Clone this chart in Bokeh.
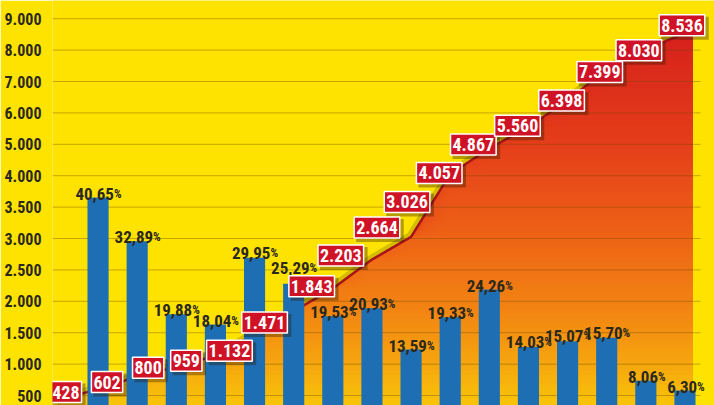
import numpy as np
from bokeh.plotting import figure
from bokeh.models import ColumnDataSource, Range1d, FixedTicker
from bokeh.core.properties import value
from bokeh.embed import file_html
from bokeh.resources import INLINE

# ---------------- data ----------------
totals = [428, 602, 800, 959, 1132, 1471, 1843, 2203, 2664, 3026,
          4057, 4867, 5560, 6398, 7399, 8030, 8536]
growth_pct = [40.65, 32.89, 19.88, 18.04, 29.95, 25.29, 19.53, 20.93,
              13.59, 19.33, 24.26, 14.03, 15.07, 15.70, 8.06, 6.30]
tick_values = [0, 500, 1000, 1500, 2000, 2500, 3000, 3500, 4000,
               5000, 6000, 7000, 8000, 9000]

# label nudges (screen px)
box_dx = [7, 9, 11, 10, 14, 10, 18, 8, 5, -4, -11, -16, -11, -6, -7, -7, -3]
box_dy = [-8, -7, -9, -6, -5, -12, -25, -33, -32, -35, -1, -4, -1, 0, 3, 1, -8]
pct_dy = [-4, -4, -4, -4, -5, -16, -4, -4, -4, -4, -4, -5, -5, -5, -4, -4]

# ---------------- style ----------------
FONT = ("'Liberation Sans Narrow', 'Noto Sans ExtraCondensed', 'Roboto Condensed', "
        "'Open Sans Condensed', 'Noto Sans Condensed', 'DejaVu Sans Condensed', sans-serif")
YELLOW = "#ffe300"
BLUE = "#1e6eb4"
DARK = "#2b281c"
BOX_RED = "#d01226"
LINE_RED = "#a8121a"

X_START, X_END, GRID_END = -0.164, 16.755, 16.397

tick_idx = np.arange(len(tick_values), dtype=float)


def to_idx(v):
    return np.interp(np.asarray(v, dtype=float), tick_values, tick_idx)


x_pos = np.arange(len(totals), dtype=float)
line_idx = to_idx(totals)

p = figure(width=714, height=405, output_backend="svg", toolbar_location=None,
           x_range=Range1d(X_START, X_END), y_range=Range1d(0.682, 13.58),
           x_axis_location=None, min_border_left=52, min_border_right=0,
           min_border_top=0, min_border_bottom=0)
p.extra_y_ranges = {"pct": Range1d(3.63, 75.73)}
p.background_fill_color = YELLOW
p.border_fill_color = YELLOW
p.outline_line_color = None
p.xgrid.visible = False
p.ygrid.visible = False

# y axis with the uneven ticks
ax = p.yaxis[0]
ax.ticker = FixedTicker(ticks=list(tick_idx[1:]))
ax.major_label_overrides = {float(i): f"{v:,}".replace(",", ".")
                            for i, v in zip(tick_idx[1:], tick_values[1:])}
ax.axis_line_color = None
ax.major_tick_line_color = None
ax.minor_tick_line_color = None
ax.major_label_standoff = 5
ax.major_label_text_font = FONT
ax.major_label_text_font_style = "bold"
ax.major_label_text_font_size = "16px"
ax.major_label_text_color = DARK

# ---------------- gradient area ----------------
AREA_PAD = 0.2
x_area = np.append(x_pos, x_pos[-1] + AREA_PAD)
y_area = np.append(line_idx, line_idx[-1])

# soft shadow above the line
p.line(x_area, y_area, line_width=10, line_color="#3a3000", line_alpha=0.22)

stops_idx = [0.0, 0.7, 2.0, 3.5, 6.0, 9.0, 12.6, 13.5]
stops_rgb = np.array([
    [250, 205, 8],
    [249, 196, 8],
    [246, 166, 14],
    [243, 136, 18],
    [238, 100, 22],
    [229, 62, 26],
    [214, 32, 28],
    [210, 28, 28],
], dtype=float)

levels = np.linspace(0.0, 13.2, 89)
xs, ys, cols = [], [], []
for k in range(len(levels) - 1, 0, -1):
    top = levels[k]
    mid = 0.5 * (levels[k] + levels[k - 1])
    rgb = [int(round(np.interp(mid, stops_idx, stops_rgb[:, c]))) for c in range(3)]
    ytop = np.minimum(y_area, top)
    xs.append(list(np.concatenate([x_area, x_area[::-1]])))
    ys.append(list(np.concatenate([ytop, np.full(len(x_area), -1.0)])))
    cols.append("#%02x%02x%02x" % tuple(rgb))
p.patches(xs="xs", ys="ys", fill_color="c", line_color=None,
          source=ColumnDataSource(dict(xs=xs, ys=ys, c=cols)))

# grid lines over the area, under the bars
gy = list(tick_idx[1:])
p.segment(x0=[X_START] * len(gy), x1=[GRID_END] * len(gy), y0=gy, y1=gy,
          line_color="#6e4a00", line_alpha=0.4, line_width=1)

# red line
p.line(x_area, y_area, line_width=2.5, line_color=LINE_RED)

# ---------------- bars ----------------
bar_x = x_pos[1:]
p.vbar(x=bar_x, top=growth_pct, bottom=0, width=0.54, y_range_name="pct",
       fill_color=BLUE, line_color=None)

# percentage labels (number + smaller %)
FS_NUM, FS_PCT = 17, 12
dig_w, comma_w, pct_w = 0.44 * FS_NUM, 0.18 * FS_NUM, 0.6 * FS_PCT
num_txt, split = [], []
for v in growth_pct:
    s = f"{v:.2f}".replace(".", ",")
    nd = sum(ch.isdigit() for ch in s)
    w = nd * dig_w + comma_w + pct_w
    num_txt.append(s)
    split.append(3 + w / 2 - pct_w)
lab_src = ColumnDataSource(dict(x=bar_x, y=growth_pct, t=num_txt, off=split,
                                dy=pct_dy, pct=["%"] * len(growth_pct)))
p.text(x="x", y="y", text="t", x_offset="off", y_offset="dy", source=lab_src,
       y_range_name="pct", text_align="right", text_baseline="alphabetic",
       text_font=value(FONT), text_font_style="bold",
       text_font_size=f"{FS_NUM}px", text_color=DARK)
p.text(x="x", y="y", text="pct", x_offset="off", y_offset="dy", source=lab_src,
       y_range_name="pct", text_align="left", text_baseline="alphabetic",
       text_font=value(FONT), text_font_style="bold",
       text_font_size=f"{FS_PCT}px", text_color=DARK)

# ---------------- value boxes ----------------
box_src = ColumnDataSource(dict(
    x=x_pos, y=line_idx,
    t=[f"{v:,}".replace(",", ".") for v in totals],
    dx=box_dx, dy=box_dy,
    sdx=[d + 3 for d in box_dx], sdy=[d + 3 for d in box_dy],
))
p.text(x="x", y="y", text="t", x_offset="sdx", y_offset="sdy", source=box_src,
       text_align="center", text_baseline="middle",
       text_font=value(FONT), text_font_style="bold", text_font_size="18px",
       text_alpha=0, background_fill_color="#2a1a00", background_fill_alpha=0.35,
       padding=dict(x=3, y=5))
p.text(x="x", y="y", text="t", x_offset="dx", y_offset="dy", source=box_src,
       text_align="center", text_baseline="middle",
       text_font=value(FONT), text_font_style="bold", text_font_size="18px",
       text_color="white", background_fill_color=BOX_RED,
       border_line_color="white", border_line_width=1.5, padding=dict(x=2, y=4))

open("out.html", "w").write(file_html(p, INLINE))
